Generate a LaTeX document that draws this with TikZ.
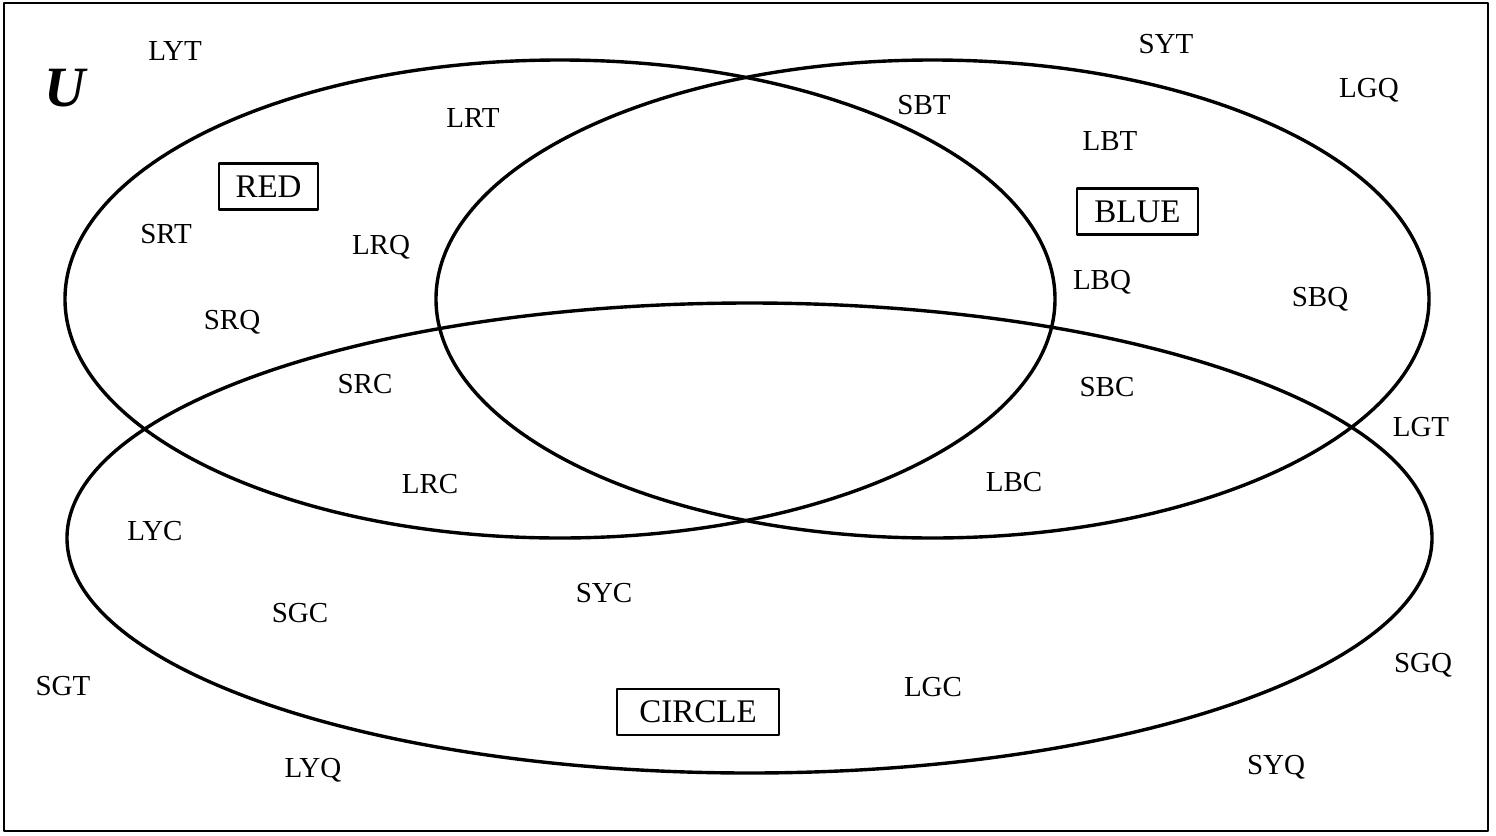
\documentclass[tikz,border=0pt]{standalone}
\usepackage{fontspec}
\setmainfont{Liberation Serif}
\begin{document}
\begin{tikzpicture}[x=0.5pt, y=-0.5pt, line join=round, line cap=round,
	lbl/.style={font=\fontsize{14.5}{17}\selectfont, inner sep=0pt, text height=9.6pt, text depth=0pt},
	setname/.style={draw, line width=1.2pt, font=\fontsize{16.5}{19}\selectfont, inner sep=0pt, text height=10.9pt, text depth=0pt, minimum height=23pt}]
	\def\rx{247.5pt} \def\ry{119.5pt} % Bán trục
	\useasboundingbox (0,0) rectangle (1496,836);
	\draw[line width=1.4pt] (4,3) rectangle (1488,831);
	\node[font=\fontsize{28.5}{30}\selectfont\bfseries\itshape, inner sep=0pt] (u) at (65,88) {U};
	% ba tập hợp
	\draw[line width=1.7pt] (560,299) ellipse [x radius=\rx, y radius=\ry];
	\draw[line width=1.7pt] (932.5,299) ellipse [x radius=248.25pt, y radius=\ry];
	\draw[line width=1.7pt] (749.5,538) ellipse [x radius=341.25pt, y radius=117.5pt];
	\node[setname, minimum width=49.5pt] (red) at (268.5,186.5) {RED};
	\node[setname, minimum width=60.5pt] (blue) at (1137.5,211.5) {BLUE};
	\node[setname, minimum width=81pt] (circle) at (698,712) {CIRCLE};
	% các phần tử
	\node[lbl] (lyt) at (175,51) {LYT};
	\node[lbl] (syt) at (1166,44) {SYT};
	\node[lbl] (lgq) at (1369,88) {LGQ};
	\node[lbl] (lrt) at (473,118) {LRT};
	\node[lbl] (sbt) at (924,105) {SBT};
	\node[lbl] (lbt) at (1110,141) {LBT};
	\node[lbl] (srt) at (166,234) {SRT};
	\node[lbl] (lrq) at (381,245) {LRQ};
	\node[lbl] (lbq) at (1102,280) {LBQ};
	\node[lbl] (sbq) at (1320,297) {SBQ};
	\node[lbl] (srq) at (232,320) {SRQ};
	\node[lbl] (src) at (365,384) {SRC};
	\node[lbl] (sbc) at (1107,387) {SBC};
	\node[lbl] (lgt) at (1421,427) {LGT};
	\node[lbl] (lrc) at (430,484) {LRC};
	\node[lbl] (lbc) at (1014,482) {LBC};
	\node[lbl] (lyc) at (155,531) {LYC};
	\node[lbl] (syc) at (604,593) {SYC};
	\node[lbl] (sgc) at (300,613) {SGC};
	\node[lbl] (sgt) at (63,686) {SGT};
	\node[lbl] (lgc) at (933,687) {LGC};
	\node[lbl] (sgq) at (1423,663) {SGQ};
	\node[lbl] (syq) at (1276,765) {SYQ};
	\node[lbl] (lyq) at (313,768) {LYQ};
\end{tikzpicture}
\end{document}
